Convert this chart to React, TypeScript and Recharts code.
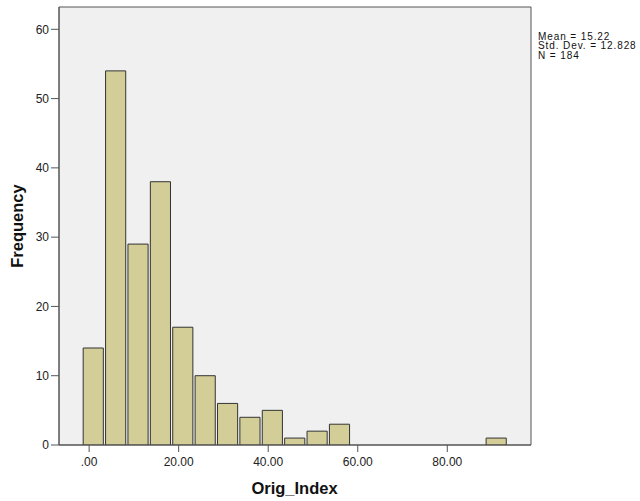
import React from "react";
import { ComposedChart, Bar, XAxis, YAxis, ReferenceArea } from "recharts";

// histogram bins (width 5), centres of each bin and the counts
const binCenters = [
  0.95, 5.95, 10.95, 15.95, 20.95, 25.95, 30.95, 35.95, 40.95, 45.95,
  50.95, 55.95, 60.95, 65.95, 70.95, 75.95, 80.95, 85.95, 90.95,
];
const frequency = [14, 54, 29, 38, 17, 10, 6, 4, 5, 1, 2, 3, 0, 0, 0, 0, 0, 0, 1];

const xTicks = [0, 20, 40, 60, 80];
const xTickLabels = [".00", "20.00", "40.00", "60.00", "80.00"];
const yTicks = [0, 10, 20, 30, 40, 50, 60];

const statsLines = ["Mean = 15.22", "Std. Dev. = 12.828", "N = 184"];

const xDomain: [number, number] = [-6.73, 98.7];
const yDomain: [number, number] = [0, 63.22];
const binWidth = 5;

const data = binCenters.map((c, i) => ({ x: c, count: frequency[i] }));

const W = 640;
const H = 501;
const margin = { top: 7, right: 109, bottom: 26, left: 9 };
const plotW = W - margin.left - 50 - margin.right;
const barPx = (plotW * binWidth) / (xDomain[1] - xDomain[0]);

const font = "Arial, 'Liberation Sans', sans-serif";
const axisColor = "#555";

export default function App() {
  return (
    <div style={{ position: "absolute", left: 0, top: 0, background: "#fff" }}>
      <ComposedChart
        width={W}
        height={H}
        data={data}
        margin={margin}
        barCategoryGap={0}
        barGap={0}
        style={{ fontFamily: font }}
      >
        <ReferenceArea
          x1={xDomain[0]}
          x2={xDomain[1]}
          y1={yDomain[0]}
          y2={yDomain[1]}
          fill="#f0f0f0"
          fillOpacity={1}
          stroke={axisColor}
          strokeWidth={1}
        />
        <XAxis
          dataKey="x"
          type="number"
          domain={xDomain}
          ticks={xTicks}
          tickFormatter={(v: number) => xTickLabels[xTicks.indexOf(v)]}
          height={30}
          tickSize={7}
          tickMargin={5}
          axisLine={{ stroke: axisColor }}
          tickLine={{ stroke: axisColor }}
          tick={{ fill: "#222", fontSize: 12 }}
          allowDataOverflow
        />
        <YAxis
          type="number"
          domain={yDomain}
          ticks={yTicks}
          width={50}
          tickSize={8}
          tickMargin={2}
          axisLine={{ stroke: axisColor }}
          tickLine={{ stroke: axisColor }}
          tick={{ fill: "#222", fontSize: 12 }}
          allowDataOverflow
        />
        <Bar
          dataKey="count"
          fill="#d3ce98"
          stroke="#333"
          strokeWidth={1}
          barSize={barPx}
          isAnimationActive={false}
        />
        <text
          x={294.5}
          y={494}
          textAnchor="middle"
          fontSize={16.5}
          fontWeight="bold"
          fill="#111"
          fontFamily={font}
        >
          Orig_Index
        </text>
        <text
          x={0}
          y={0}
          transform="translate(23 226) rotate(-90)"
          textAnchor="middle"
          fontSize={16.5}
          fontWeight="bold"
          fill="#111"
          fontFamily={font}
        >
          Frequency
        </text>
        {statsLines.map((s, i) => (
          <text
            key={s}
            x={538}
            y={39.5 + i * 9.6}
            fontSize={10}
            letterSpacing={0.9}
            fill="#111"
            fontFamily={font}
          >
            {s}
          </text>
        ))}
      </ComposedChart>
    </div>
  );
}
